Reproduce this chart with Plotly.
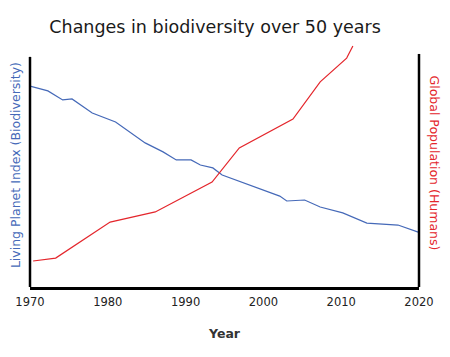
import plotly.graph_objects as go

lpi_years = [1970, 1972.3, 1974.2, 1975.4, 1978, 1981, 1984.8, 1987.1, 1988.8, 1990.7,
             1991.9, 1993.5, 1994.7, 2002.1, 2003, 2005.3, 2007.3, 2010.2, 2013.3, 2017.3, 2019.9]
lpi_values = [82.7, 80.7, 77.0, 77.4, 71.6, 67.9, 59.3, 55.6, 52.3, 52.3,
              50.2, 49.0, 46.1, 37.4, 35.4, 35.8, 32.9, 30.5, 26.3, 25.5, 22.6]

pop_years = [1970.4, 1973.3, 1980.3, 1986.1, 1993.4, 1996.9, 2003.8, 2007.3, 2010.7, 2011.5]
pop_values = [10.7, 11.9, 26.7, 30.9, 43.2, 57.2, 69.1, 84.4, 94.2, 99.2]

x_ticks = [1970, 1980, 1990, 2000, 2010, 2020]

BLUE = "#4569b8"
RED = "#e4262c"
FONT = "DejaVu Sans, sans-serif"

fig = go.Figure()
fig.add_trace(go.Scatter(x=lpi_years, y=lpi_values, mode="lines",
                         line=dict(color=BLUE, width=1.2), yaxis="y"))
fig.add_trace(go.Scatter(x=pop_years, y=pop_values, mode="lines",
                         line=dict(color=RED, width=1.2), yaxis="y2"))

fig.update_layout(
    width=450, height=357,
    margin=dict(l=30, r=31, t=44, b=70, autoexpand=False),
    plot_bgcolor="white", paper_bgcolor="white",
    showlegend=False,
    font=dict(family=FONT, color="#222"),
    title=dict(text="Changes in biodiversity over 50 years", x=0.478, xanchor="center",
               y=0.925, yanchor="middle", font=dict(size=17.5, color="#1a1a1a")),
    xaxis=dict(range=[1970, 2020], tickvals=x_ticks, ticktext=[str(t) for t in x_ticks],
               showgrid=False, zeroline=False, showline=True, linecolor="black", linewidth=2.5,
               ticks="outside", ticklen=2, tickcolor="rgba(0,0,0,0)",
               tickfont=dict(size=11.5, color="#222"), automargin=False,
               title=dict(text="<b>Year</b>", font=dict(size=12.5, color="#333"), standoff=22)),
    yaxis=dict(range=[0, 100], showgrid=False, zeroline=False, showticklabels=False,
               showline=False, ticks="", automargin=False),
    yaxis2=dict(range=[0, 100], overlaying="y", side="right", showgrid=False, zeroline=False,
                showticklabels=False, showline=False, ticks="", automargin=False),
    shapes=[
        dict(type="line", xref="paper", yref="paper", x0=0, x1=0, y0=0, y1=0.947,
             line=dict(color="black", width=2.5)),
        dict(type="line", xref="paper", yref="paper", x0=1, x1=1, y0=0, y1=0.959,
             line=dict(color="black", width=2.5)),
    ],
    annotations=[
        dict(text="Living Planet Index (Biodiversity)", xref="paper", yref="paper",
             x=-0.037, y=0.5, textangle=-90, showarrow=False, xanchor="center", yanchor="middle",
             font=dict(size=12.5, color=BLUE, family=FONT)),
        dict(text="Global Population (Humans)", xref="paper", yref="paper",
             x=1.04, y=0.51, textangle=90, showarrow=False, xanchor="center", yanchor="middle",
             font=dict(size=12.5, color=RED, family=FONT)),
    ],
)

fig.write_html("out.html", config={"displayModeBar": False},
               post_script="document.body.style.margin='0';")
